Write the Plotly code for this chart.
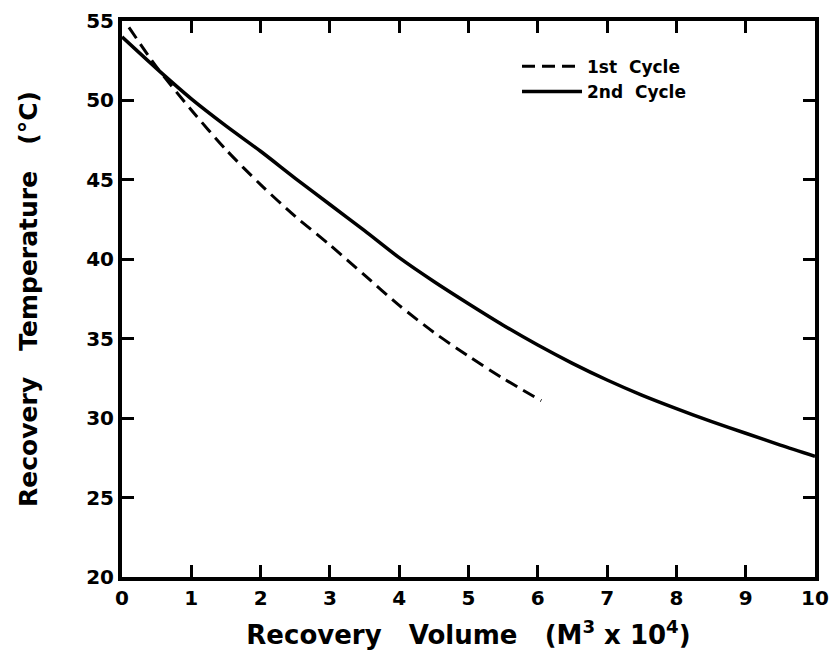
import plotly.graph_objects as go

# 1st cycle (dashed)
x_cycle1 = [0.1, 0.5, 1.0, 1.5, 2.0, 2.5, 3.0, 3.5, 4.0, 4.5, 5.0, 5.5, 6.05]
t_cycle1 = [54.6, 52.1, 49.4, 46.9, 44.7, 42.7, 40.9, 39.0, 37.1, 35.4, 33.9, 32.5, 31.1]

# 2nd cycle (solid)
x_cycle2 = [0, 0.5, 1, 1.5, 2, 2.5, 3, 3.5, 4, 4.5, 5, 5.5, 6, 6.5, 7, 7.5, 8, 8.5, 9, 9.5, 10]
t_cycle2 = [54.0, 52.0, 50.1, 48.4, 46.8, 45.1, 43.45, 41.8, 40.1, 38.6, 37.2, 35.85, 34.6, 33.45, 32.4, 31.45, 30.6, 29.8, 29.05, 28.3, 27.6]

x_ticks = [0, 1, 2, 3, 4, 5, 6, 7, 8, 9, 10]
y_ticks = [20, 25, 30, 35, 40, 45, 50, 55]

FONT = "DejaVu Sans, Liberation Sans, Arial, sans-serif"

fig = go.Figure()
fig.add_trace(go.Scatter(x=x_cycle1, y=t_cycle1, mode="lines", name="<b>1st  Cycle</b>",
                         line=dict(color="black", width=3, dash="13px,7px", shape="spline", smoothing=0.8)))
fig.add_trace(go.Scatter(x=x_cycle2, y=t_cycle2, mode="lines", name="<b>2nd  Cycle</b>",
                         line=dict(color="black", width=3.5, shape="spline", smoothing=0.8)))

axis_common = dict(
    showline=True, linecolor="black", linewidth=4, mirror="ticks",
    ticks="inside", ticklen=12, tickwidth=3, tickcolor="black",
    showgrid=False, zeroline=False, automargin=False,
    ticklabeloverflow="allow",
    tickfont=dict(family=FONT, size=20, color="black", weight="bold"),
)

fig.update_xaxes(range=[0, 10], tickvals=x_ticks, ticktext=[str(v) for v in x_ticks],
                 title=dict(text="<b>Recovery   Volume   (M<sup>3</sup> x 10<sup>4</sup>)</b>",
                            font=dict(family=FONT, size=26, color="black"), standoff=18),
                 **axis_common)
fig.update_yaxes(range=[20, 55], tickvals=y_ticks, ticktext=[str(v) for v in y_ticks],
                 title=dict(text="<b>Recovery   Temperature   (°C)</b>",
                            font=dict(family=FONT, size=25, color="black"), standoff=42),
                 **axis_common)

fig.update_layout(
    width=829, height=657,
    margin=dict(l=114, r=22, t=13, b=88, autoexpand=False),
    paper_bgcolor="white", plot_bgcolor="white",
    showlegend=True,
    legend=dict(x=0.57, y=0.95, xanchor="left", yanchor="top",
                bgcolor="rgba(0,0,0,0)", borderwidth=0,
                font=dict(family=FONT, size=17, color="black"),
                tracegroupgap=0, itemwidth=60),
)

fig.write_html("out.html")
